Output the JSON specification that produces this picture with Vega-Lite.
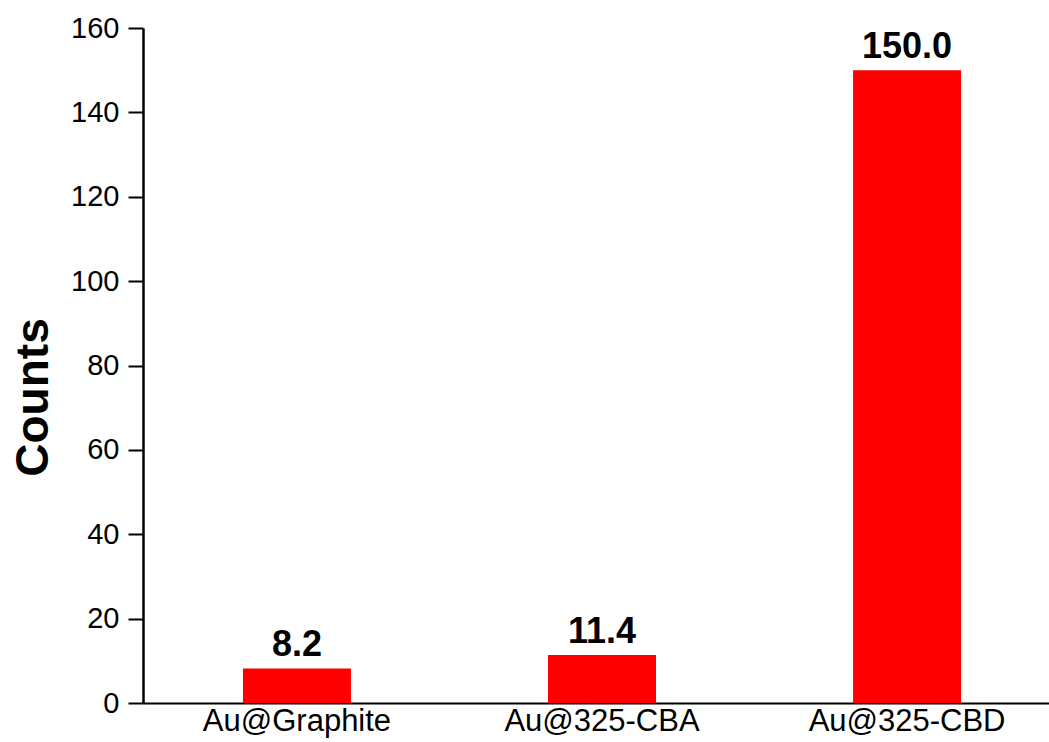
{
  "$schema": "https://vega.github.io/schema/vega-lite/v6.json",
  "width": 906,
  "height": 675,
  "autosize": {"type": "none"},
  "padding": {"left": 143, "top": 28, "right": 0, "bottom": 39},
  "background": "white",
  "config": {"view": {"stroke": null}, "font": "Liberation Sans"},
  "data": {
    "values": [
      {"sample": "Au@Graphite", "counts": 8.2},
      {"sample": "Au@325-CBA", "counts": 11.4},
      {"sample": "Au@325-CBD", "counts": 150.0}
    ]
  },
  "encoding": {
    "x": {
      "field": "sample",
      "type": "nominal",
      "sort": null,
      "scale": {"paddingInner": 0.646, "paddingOuter": 0.308, "align": 0.532},
      "axis": {
        "title": null,
        "labelAngle": 0,
        "labelFont": "Liberation Sans",
        "labelFontSize": 31,
        "labelColor": "black",
        "labelPadding": 3,
        "labelLimit": 0,
        "ticks": false,
        "domainColor": "black",
        "domainWidth": 2,
        "grid": false
      }
    },
    "y": {
      "field": "counts",
      "type": "quantitative",
      "scale": {"domain": [0, 160], "nice": false},
      "axis": {
        "title": "Counts",
        "titleFont": "Liberation Sans",
        "titleFontSize": 46,
        "titleFontWeight": "bold",
        "titleColor": "black",
        "titleAngle": 270,
        "titleAlign": "center",
        "titleBaseline": "middle",
        "titleX": -110,
        "titleY": 369,
        "values": [0, 20, 40, 60, 80, 100, 120, 140, 160],
        "labelFont": "Liberation Sans",
        "labelFontSize": 29,
        "labelColor": "black",
        "labelPadding": 9,
        "tickSize": 15,
        "tickWidth": 2,
        "tickColor": "black",
        "domainColor": "black",
        "domainWidth": 2.5,
        "grid": false
      }
    }
  },
  "layer": [
    {"mark": {"type": "bar", "color": "#FF0000"}},
    {
      "mark": {
        "type": "text",
        "font": "Liberation Sans",
        "fontSize": 36,
        "fontWeight": "bold",
        "color": "black",
        "baseline": "alphabetic",
        "dy": -12
      },
      "encoding": {
        "text": {"field": "counts", "type": "quantitative", "format": ".1f"}
      }
    }
  ]
}
